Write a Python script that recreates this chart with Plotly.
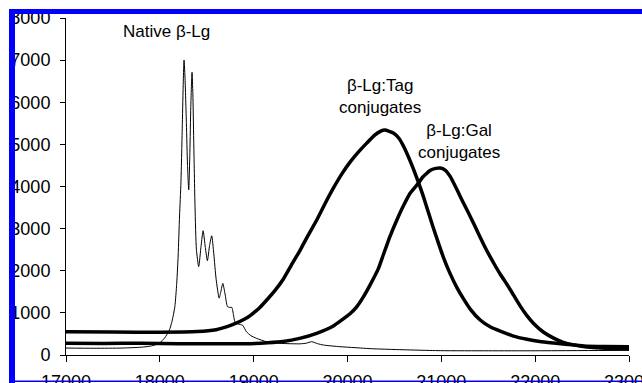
import plotly.graph_objects as go

# ---- data (mass in Da, intensity) ----
native_mass = [17000, 17300, 17600, 17800, 17900, 17950, 18000, 18050, 18100, 18130,
               18160, 18180, 18195, 18210, 18225, 18240, 18250, 18258, 18268, 18283,
               18295, 18308, 18320, 18330, 18343, 18352, 18361, 18375, 18390, 18414,
               18440, 18461, 18485, 18507, 18530, 18553, 18575, 18600, 18632, 18650,
               18671, 18695, 18721, 18745, 18767, 18785, 18800, 18830, 18860, 18881,
               18924, 18970, 19030, 19137, 19280, 19493, 19560, 19618, 19680, 19742,
               19920, 20027, 20250, 20454, 20988, 21500, 22000, 22500, 23000]
native_int = [165, 160, 165, 185, 210, 240, 290, 400, 580, 800,
              1150, 1700, 2350, 3300, 4100, 5500, 6500, 7000, 6600, 5500,
              4500, 3920, 4800, 5900, 6710, 6200, 5100, 3520, 2500, 2100,
              2600, 2950, 2550, 2240, 2600, 2830, 2400, 1800, 1350, 1500,
              1700, 1450, 1150, 1130, 1130, 950, 790, 740, 720, 710,
              550, 460, 396, 316, 277, 265, 280, 316, 270, 237,
              197, 182, 150, 134, 103, 100, 100, 105, 110]

tag_mass = [17000, 17500, 18000, 18400, 18600, 18700, 18800, 18900, 18959, 19066,
            19137, 19230, 19315, 19400, 19493, 19580, 19671, 19760, 19849, 19940,
            20027, 20120, 20205, 20290, 20350, 20400, 20489, 20550, 20596, 20650,
            20702, 20756, 20809, 20860, 20916, 20970, 21022, 21090, 21166, 21240,
            21308, 21414, 21520, 21628, 21760, 21913, 22050, 22197, 22350, 22517,
            22750, 23000]
tag_int = [550, 545, 540, 555, 600, 660, 745, 850, 930, 1130,
           1300, 1540, 1800, 2130, 2480, 2840, 3200, 3590, 3960, 4300,
           4580, 4830, 5030, 5220, 5310, 5340, 5270, 5140, 4960, 4700,
           4420, 4100, 3760, 3400, 3010, 2650, 2320, 1950, 1600, 1320,
           1090, 830, 670, 565, 455, 372, 320, 285, 250, 215,
           200, 195]

gal_mass = [17000, 17400, 17800, 18200, 18600, 18959, 19150, 19315, 19500, 19671,
            19849, 20027, 20100, 20169, 20240, 20329, 20382, 20450, 20525, 20600,
            20667, 20756, 20800, 20880, 20940, 20988, 21040, 21094, 21150, 21200,
            21272, 21308, 21396, 21470, 21556, 21630, 21699, 21770, 21841, 21910,
            21983, 22090, 22197, 22300, 22410, 22550, 22696, 23000]
gal_int = [280, 275, 280, 270, 265, 270, 290, 320, 400, 514,
           690, 980, 1150, 1380, 1660, 2050, 2380, 2800, 3200, 3560,
           3840, 4080, 4220, 4380, 4430, 4440, 4390, 4240, 4000, 3770,
           3450, 3290, 2880, 2540, 2190, 1910, 1680, 1420, 1160, 940,
           750, 540, 400, 300, 240, 190, 165, 155]

x_ticks = [17000, 18000, 19000, 20000, 21000, 22000, 23000]
y_ticks = [0, 1000, 2000, 3000, 4000, 5000, 6000, 7000, 8000]

FONT = "Liberation Sans, Arial, sans-serif"

fig = go.Figure()
fig.add_trace(go.Scatter(x=native_mass, y=native_int, mode="lines",
                         line=dict(color="black", width=1, shape="spline", smoothing=0.6),
                         name="Native"))
fig.add_trace(go.Scatter(x=tag_mass, y=tag_int, mode="lines",
                         line=dict(color="black", width=3.5, shape="spline", smoothing=0.4),
                         name="Tag"))
fig.add_trace(go.Scatter(x=gal_mass, y=gal_int, mode="lines",
                         line=dict(color="black", width=3.5, shape="spline", smoothing=0.4),
                         name="Gal"))

W, H = 642, 383
L, R, T, B = 66, 13, 18, 28
pw, ph = W - L - R, H - T - B

def px(xpix):
    return (xpix - L) / pw

def py(ypix):
    return (H - B - ypix) / ph

shapes = [
    dict(type="rect", xref="paper", yref="paper", x0=px(9), x1=px(15), y0=py(383), y1=py(9),
         fillcolor="#0000ff", line=dict(width=0), layer="above"),
    dict(type="rect", xref="paper", yref="paper", x0=px(9), x1=px(642), y0=py(14), y1=py(9),
         fillcolor="#0000ff", line=dict(width=0), layer="above"),
    dict(type="rect", xref="paper", yref="paper", x0=px(9), x1=px(642), y0=py(382), y1=py(380.5),
         fillcolor="#0000ff", line=dict(width=0), layer="above"),
]

afont = dict(size=17, color="black", family=FONT)
annotations = [
    dict(x=18071, y=7690, text="Native β-Lg", showarrow=False, font=afont),
    dict(x=20346, y=6130, text="β-Lg:Tag<br>conjugates", showarrow=False, font=afont),
    dict(x=21188, y=5060, text="β-Lg:Gal<br>conjugates", showarrow=False, font=afont),
]

fig.update_layout(
    width=W, height=H,
    margin=dict(l=L, r=R, t=T, b=B, pad=0, autoexpand=False),
    paper_bgcolor="white", plot_bgcolor="white",
    showlegend=False,
    font=dict(family=FONT, size=17, color="black"),
    shapes=shapes,
    annotations=annotations,
    xaxis=dict(range=[17000, 23000], tickvals=x_ticks, ticktext=[str(v) for v in x_ticks],
               showgrid=False, zeroline=False, showline=True, linecolor="black", linewidth=1,
               ticks="outside", ticklen=6, tickcolor="black", tickwidth=1, automargin=False,
               ticklabelstandoff=4, ticklabeloverflow="allow",
               tickfont=dict(size=18, family=FONT, color="black")),
    yaxis=dict(range=[0, 8000], tickvals=y_ticks, ticktext=[str(v) for v in y_ticks],
               showgrid=False, zeroline=False, showline=True, linecolor="black", linewidth=1,
               ticks="outside", ticklen=5, tickcolor="black", tickwidth=1, automargin=False,
               ticklabelstandoff=6, ticklabeloverflow="allow",
               tickfont=dict(size=18, family=FONT, color="black")),
)

fig.write_html("out.html")
